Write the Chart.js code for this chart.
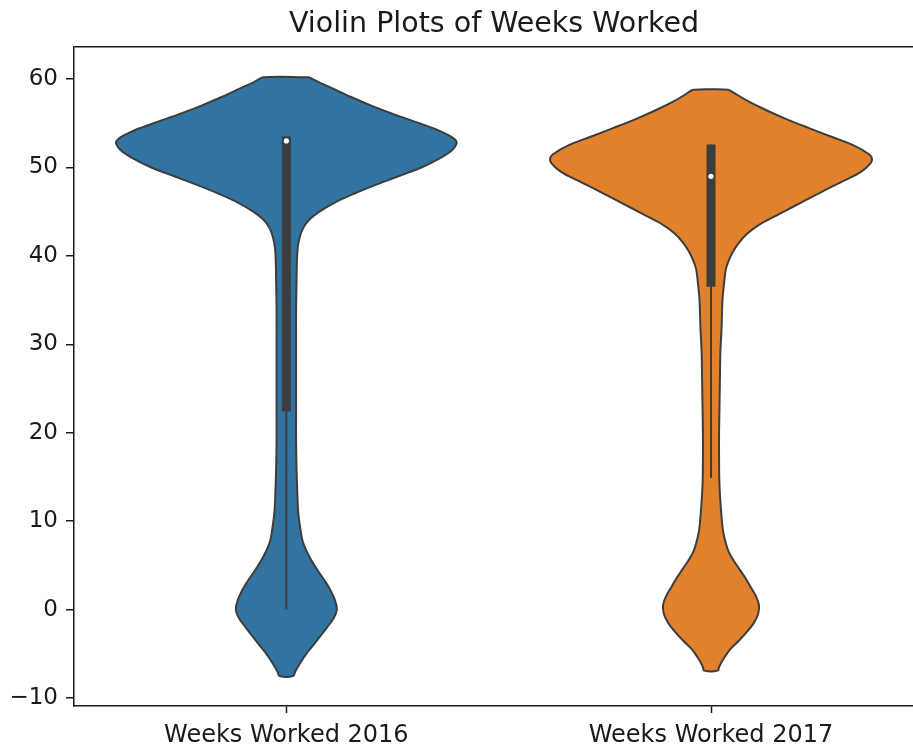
<!DOCTYPE html>
<html>
<head>
<meta charset="utf-8">
<script src="https://cdn.jsdelivr.net/npm/chart.js@4/dist/chart.umd.min.js"></script>
<style>
  html, body { margin: 0; padding: 0; background: #fff; overflow: hidden; }
  #wrap { width: 913px; height: 745px; overflow: hidden; }
</style>
</head>
<body>
<div id="wrap"><canvas id="chart-violin" width="934" height="745"></canvas></div>
<script>
// ── violin plots of weeks worked ──────────────────────────────────────

const categories = ["Weeks Worked 2016", "Weeks Worked 2017"];
const yTicks = [-10, 0, 10, 20, 30, 40, 50, 60];
const yMin = -10.9, yMax = 63.6;

// kde outline: value (weeks) and half-width in category units
const kdeY2016 = [60.2, 59.6, 59.0, 58.0, 57.0, 56.0, 55.0, 54.0, 53.0, 52.0,
  51.0, 50.0, 49.0, 48.0, 47.0, 46.0, 45.0, 44.0, 43.0, 42.0,
  41.0, 39.5, 37, 34, 31, 28, 25, 22, 19, 16,
  13, 11, 9.5, 8, 7, 6, 5, 4, 3, 2,
  1, 0, -1, -2, -3, -4, -5, -6, -7, -7.5];
const kdeW2016 = [0.054, 0.078, 0.106, 0.151, 0.200, 0.254, 0.313, 0.367, 0.400, 0.391,
  0.360, 0.318, 0.264, 0.209, 0.158, 0.113, 0.078, 0.052, 0.038, 0.031,
  0.027, 0.025, 0.024, 0.023, 0.023, 0.023, 0.023, 0.023, 0.023, 0.024,
  0.026, 0.028, 0.032, 0.037, 0.044, 0.054, 0.066, 0.080, 0.094, 0.106,
  0.115, 0.119, 0.111, 0.096, 0.080, 0.064, 0.047, 0.033, 0.021, 0.016];

const kdeY2017 = [58.8, 58.3, 57.5, 56.5, 55.5, 54.5, 53.5, 52.5, 51.5, 51.0,
  50.5, 49.5, 48.5, 47.5, 46.5, 45.5, 44.5, 43.5, 42.5, 41.5,
  40.5, 39.5, 38.5, 37, 35, 32, 29, 26, 23, 20,
  17, 14, 11, 9, 7.5, 6.5, 5.5, 4.5, 3.5, 2.5,
  1.5, 0.5, -0.5, -1.5, -2.5, -3.5, -4.5, -5.3, -6.0, -6.5, -6.9];
const kdeW2017 = [0.041, 0.059, 0.087, 0.129, 0.176, 0.228, 0.282, 0.336, 0.372, 0.379,
  0.376, 0.353, 0.313, 0.271, 0.231, 0.191, 0.151, 0.113, 0.085, 0.066,
  0.052, 0.042, 0.035, 0.031, 0.027, 0.025, 0.022, 0.021, 0.020, 0.019,
  0.019, 0.020, 0.024, 0.028, 0.035, 0.042, 0.054, 0.068, 0.082, 0.094,
  0.106, 0.113, 0.111, 0.101, 0.085, 0.066, 0.045, 0.033, 0.024, 0.019, 0.016];

// inner box
const q1 = [22.4, 36.5];
const q3 = [53.5, 52.6];
const medians = [53.0, 49.0];
const whiskLo = [0.0, 14.9];
const whiskHi = [53.5, 52.6];

const fills = ["#3274a1", "#e1812c"];
const edge = "#3d3d3d";
const inkColor = "#1a1a1a";
const fontFam = "'DejaVu Sans', sans-serif";

function outline(c, ys, ws) {
  const pts = [];
  for (let i = 0; i < ys.length; i++) pts.push({ x: c + ws[i], y: ys[i] });
  for (let i = ys.length - 1; i >= 0; i--) pts.push({ x: c - ws[i], y: ys[i] });
  pts.push(pts[0]);
  return pts;
}

const kdes = [[kdeY2016, kdeW2016], [kdeY2017, kdeW2017]];
const datasets = [];
kdes.forEach(([ys, ws], i) => {
  datasets.push({
    label: categories[i],
    data: outline(i, ys, ws),
    showLine: true,
    fill: "shape",
    backgroundColor: fills[i],
    borderColor: edge,
    borderWidth: 2,
    pointRadius: 0,
    tension: 0.35,
    order: 3,
  });
});
categories.forEach((c, i) => {
  datasets.push({
    data: [{ x: i, y: whiskLo[i] }, { x: i, y: whiskHi[i] }],
    showLine: true, borderColor: edge, borderWidth: 2, pointRadius: 0, order: 2,
  });
  datasets.push({
    data: [{ x: i, y: q1[i] }, { x: i, y: q3[i] }],
    showLine: true, borderColor: edge, borderWidth: 9, borderCapStyle: "butt",
    pointRadius: 0, order: 1,
  });
});
datasets.push({
  data: medians.map((m, i) => ({ x: i, y: m })),
  pointRadius: 2.6, pointBackgroundColor: "#ffffff", pointBorderWidth: 0,
  order: 0,
});

// top spine = a grid line at yMax, hidden everywhere else
const isTop = ctx => ctx.tick && ctx.tick.value === yMax;

new Chart(document.getElementById("chart-violin"), {
  type: "scatter",
  data: { datasets },
  options: {
    responsive: false,
    animation: false,
    devicePixelRatio: 1,
    layout: { padding: { left: 0, top: 0, bottom: 0, right: 20 } },
    plugins: {
      legend: { display: false },
      tooltip: { enabled: false },
      title: {
        display: true,
        fullSize: false,
        text: "Violin Plots of Weeks Worked",
        color: inkColor,
        font: { family: fontFam, size: 28.5, weight: "normal" },
        padding: { top: 7, bottom: 6 },
      },
    },
    scales: {
      x: {
        type: "linear",
        // the picture is cropped just before the right spine (at 1.5)
        min: -0.5, max: 1.478,
        afterBuildTicks: s => { s.ticks = categories.map((c, i) => ({ value: i })); },
        afterFit: s => { s.height = 39; },
        ticks: {
          color: inkColor,
          font: { family: fontFam, size: 24 },
          padding: 8,
          maxRotation: 0,
          callback: v => categories[v],
        },
        grid: { drawOnChartArea: false, drawTicks: true, tickLength: 7, tickColor: inkColor, tickWidth: 1.5 },
        border: { color: inkColor, width: 1.5 },
      },
      y: {
        min: yMin, max: yMax,
        afterBuildTicks: s => { s.ticks = yTicks.concat([yMax]).map(v => ({ value: v })); },
        afterFit: s => { s.width = 74; },
        ticks: {
          color: inkColor,
          font: { family: fontFam, size: 23 },
          padding: 8,
          callback: v => (v === yMax ? "" : v < 0 ? "\u2212" + Math.abs(v) : String(v)),
        },
        grid: {
          drawOnChartArea: true,
          drawTicks: true,
          tickLength: 8,
          lineWidth: 1.5,
          tickWidth: 1.5,
          color: ctx => (isTop(ctx) ? inkColor : "rgba(0,0,0,0)"),
          tickColor: ctx => (isTop(ctx) ? "rgba(0,0,0,0)" : inkColor),
        },
        border: { color: inkColor, width: 1.5 },
      },
    },
  },
});
</script>
</body>
</html>
